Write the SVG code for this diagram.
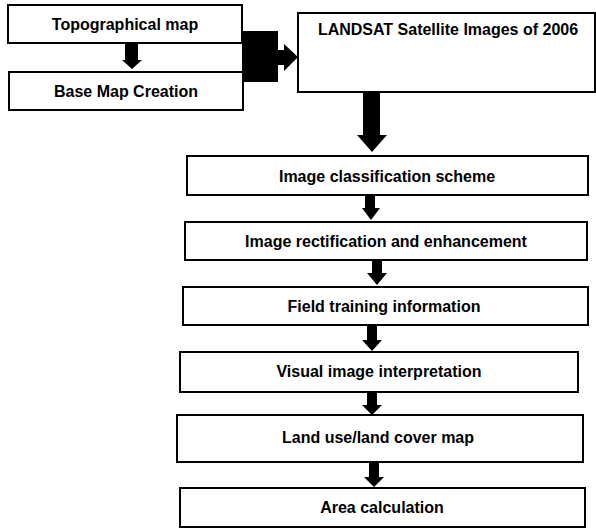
<svg xmlns="http://www.w3.org/2000/svg" width="596" height="529" viewBox="0 0 596 529">
<style>
.box{fill:#fff;stroke:#000;stroke-width:2}
.t{font-family:"Liberation Sans",Arial,sans-serif;font-weight:bold;font-size:16px;fill:#000;text-anchor:middle}
.ar{fill:#000;stroke:none}
</style>
<rect width="596" height="529" fill="#fff"/>
<g id="connectors">
<path class="ar" d="M125,43 H138 V60 H142 L132,69 L122,60 H125 Z"/>
<path class="ar" d="M242,31 H278 V50 H284 V44 L298,57 L284,71 V65 H278 V82 H242 Z"/>
<path class="ar" d="M363,92 H380 V135 H387 L372,152 L357,135 H363 Z"/>
<path class="ar" d="M365,195 H375 V208 H380 L371,220 L362,208 H365 Z"/>
<path class="ar" d="M372,260 H382 V273 H387 L377,285 L367,273 H372 Z"/>
<path class="ar" d="M367,325 H377 V340 H382 L372,351 L362,340 H367 Z"/>
<path class="ar" d="M367,392 H377 V405 H382 L372,415 L362,405 H367 Z"/>
<path class="ar" d="M369,462 H379 V477 H384 L374,487 L364,477 H369 Z"/>
</g>
<g id="topo"><rect class="box" x="8" y="5" width="234" height="38"/><text class="t" x="125" y="30">Topographical map</text></g>
<g id="basemap"><rect class="box" x="9" y="72" width="234" height="38"/><text class="t" x="126" y="97">Base Map Creation</text></g>
<g id="landsat"><rect class="box" x="298" y="13" width="297" height="79"/><text class="t" x="448" y="35">LANDSAT Satellite Images of 2006</text></g>
<g id="classification"><rect class="box" x="187" y="156" width="401" height="39"/><text class="t" x="387" y="182">Image classification scheme</text></g>
<g id="rectification"><rect class="box" x="185" y="222" width="402" height="38"/><text class="t" x="386" y="247">Image rectification and enhancement</text></g>
<g id="field"><rect class="box" x="183" y="287" width="405" height="38"/><text class="t" x="384" y="312">Field training information</text></g>
<g id="visual"><rect class="box" x="180" y="352" width="398" height="40"/><text class="t" x="379" y="377">Visual image interpretation</text></g>
<g id="landuse"><rect class="box" x="177" y="415" width="406" height="47"/><text class="t" x="378" y="443">Land use/land cover map</text></g>
<g id="area"><rect class="box" x="180" y="488" width="405" height="39"/><text class="t" x="382" y="513">Area calculation</text></g>
</svg>
